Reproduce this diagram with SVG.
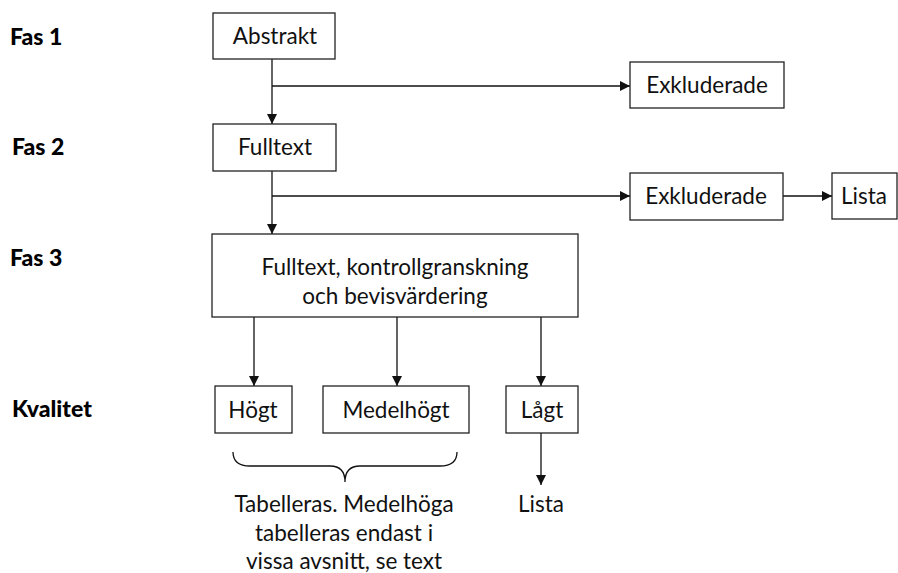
<svg xmlns="http://www.w3.org/2000/svg" width="898" height="573" viewBox="0 0 898 573">
<style>
  .box { fill: #fff; stroke: #222; stroke-width: 1.3; }
  .t { font-family: Lato, "Open Sans", "DejaVu Sans", sans-serif; font-size: 22.5px; fill: #111; text-anchor: middle; }
  .lbl { font-family: Lato, "Open Sans", "DejaVu Sans", sans-serif; font-size: 23px; font-weight: 900; fill: #000; }
  .ln { fill: none; stroke: #111; stroke-width: 1.3; }
</style>
<defs>
  <marker id="arr" viewBox="0 0 10 10" refX="10" refY="5" markerWidth="10" markerHeight="10" markerUnits="userSpaceOnUse" orient="auto">
    <path d="M0,0 L10,5 L0,10 z" fill="#111"/>
  </marker>
</defs>
<rect width="898" height="573" fill="#fff"/>

<g id="labels">
  <text class="lbl" x="10" y="45">Fas 1</text>
  <text class="lbl" x="12" y="155">Fas 2</text>
  <text class="lbl" x="10" y="266">Fas 3</text>
  <text class="lbl" x="12" y="417">Kvalitet</text>
</g>

<g id="connectors">
  <line class="ln" x1="272" y1="59" x2="272" y2="124" marker-end="url(#arr)"/>
  <line class="ln" x1="272" y1="86" x2="630" y2="86" marker-end="url(#arr)"/>
  <line class="ln" x1="272" y1="171" x2="272" y2="234" marker-end="url(#arr)"/>
  <line class="ln" x1="272" y1="196" x2="630" y2="196" marker-end="url(#arr)"/>
  <line class="ln" x1="783" y1="196" x2="832" y2="196" marker-end="url(#arr)"/>
  <line class="ln" x1="254" y1="317" x2="254" y2="386" marker-end="url(#arr)"/>
  <line class="ln" x1="397" y1="317" x2="397" y2="386" marker-end="url(#arr)"/>
  <line class="ln" x1="541" y1="317" x2="541" y2="386" marker-end="url(#arr)"/>
  <line class="ln" x1="541" y1="433" x2="541" y2="485" marker-end="url(#arr)"/>
  <path class="ln" d="M233,452 Q233,466 250,466 L330,466 Q345,466 345,482 Q345,466 360,466 L440,466 Q457,466 457,452"/>
</g>

<g id="abstrakt">
  <rect class="box" x="213" y="13" width="122" height="46"/>
  <text class="t" x="275" y="44">Abstrakt</text>
</g>
<g id="exkluderade1">
  <rect class="box" x="630" y="62" width="154" height="46"/>
  <text class="t" x="707" y="93">Exkluderade</text>
</g>
<g id="fulltext">
  <rect class="box" x="213" y="124" width="123" height="47"/>
  <text class="t" x="275" y="155">Fulltext</text>
</g>
<g id="exkluderade2">
  <rect class="box" x="630" y="173" width="153" height="47"/>
  <text class="t" x="706" y="204">Exkluderade</text>
</g>
<g id="lista1">
  <rect class="box" x="832" y="173" width="65" height="46"/>
  <text class="t" x="864" y="204">Lista</text>
</g>
<g id="fas3box">
  <rect class="box" x="212" y="234" width="366" height="83"/>
  <text class="t" x="395" y="275">Fulltext, kontrollgranskning</text>
  <text class="t" x="395" y="304">och bevisvärdering</text>
</g>
<g id="hogt">
  <rect class="box" x="215" y="386" width="77" height="47"/>
  <text class="t" x="253" y="418">Högt</text>
</g>
<g id="medelhogt">
  <rect class="box" x="323" y="386" width="146" height="47"/>
  <text class="t" x="396" y="418">Medelhögt</text>
</g>
<g id="lagt">
  <rect class="box" x="506" y="386" width="72" height="47"/>
  <text class="t" x="542" y="418">Lågt</text>
</g>
<g id="lista2">
  <text class="t" x="541" y="512">Lista</text>
</g>
<g id="note">
  <text class="t" x="344" y="512">Tabelleras. Medelhöga</text>
  <text class="t" x="344" y="541">tabelleras endast i</text>
  <text class="t" x="344" y="569">vissa avsnitt, se text</text>
</g>
</svg>
